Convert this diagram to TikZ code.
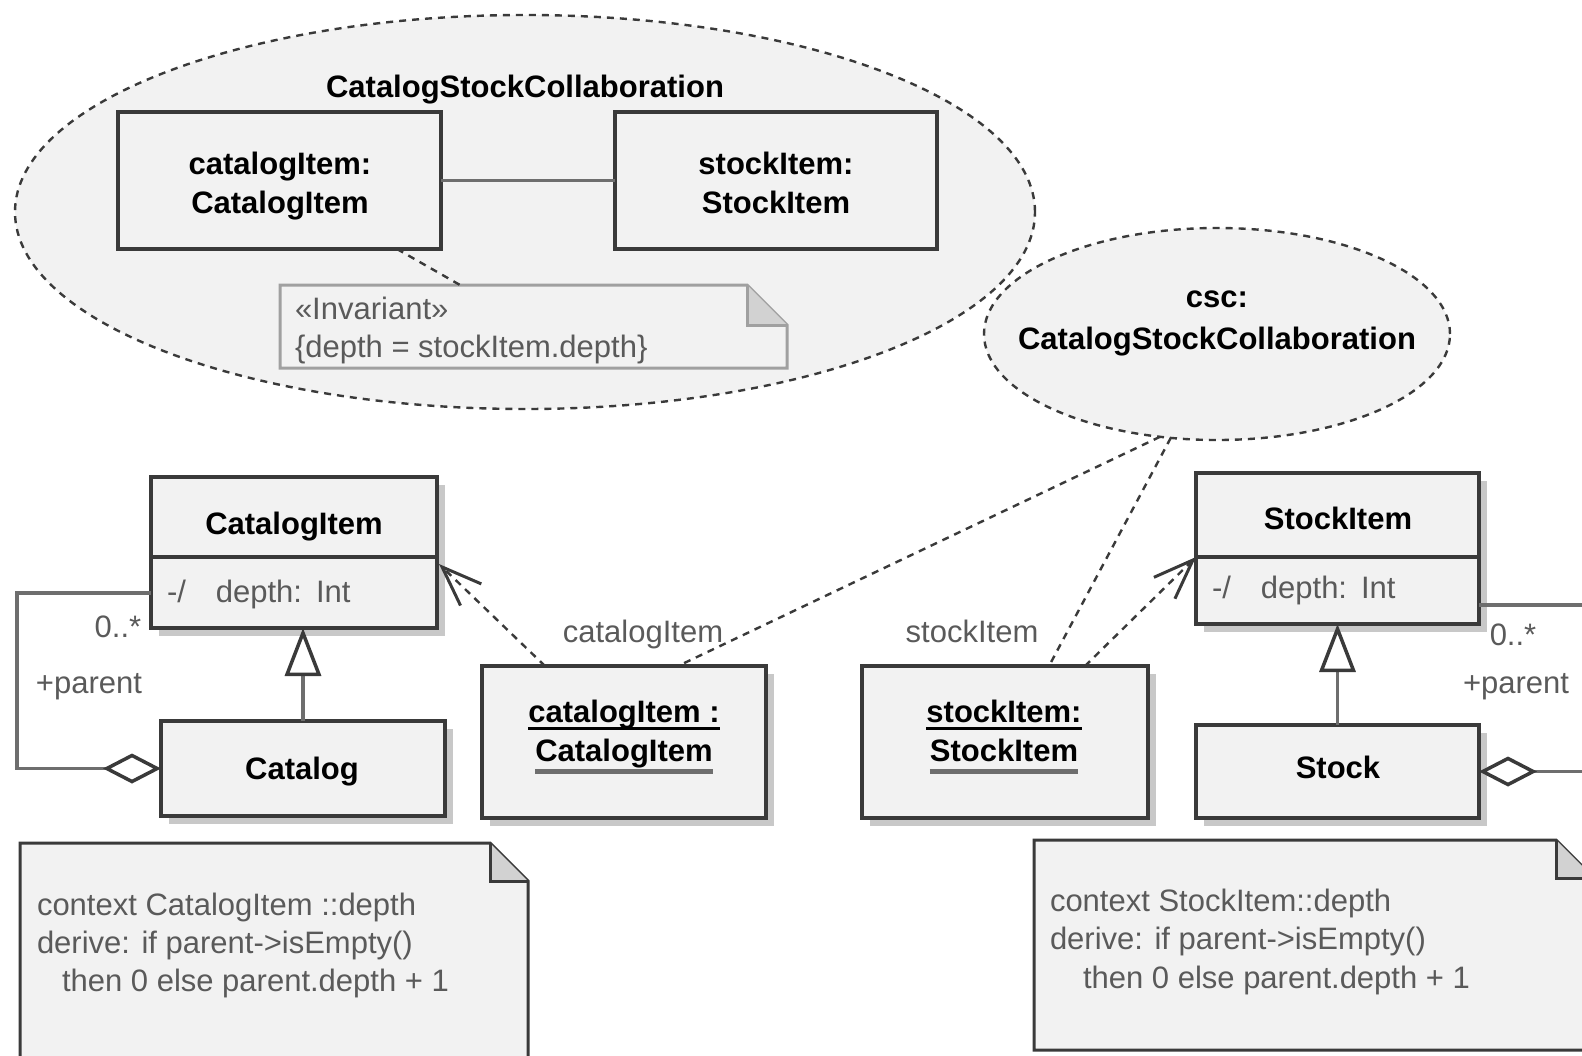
\documentclass[tikz,border=0pt]{standalone}
\usepackage{fontspec}
\setmainfont{Liberation Sans}
\usetikzlibrary{arrows.meta,shapes.geometric,shadows,calc}

\definecolor{boxfill}{HTML}{F2F2F2}
\definecolor{edge}{HTML}{3A3A3A}
\definecolor{assoc}{HTML}{6E6E6E}
\definecolor{shade}{HTML}{C8C8C8}
\definecolor{softtext}{HTML}{5A5A5A}
\definecolor{lightedge}{HTML}{A0A0A0}
\definecolor{foldgray}{HTML}{D2D2D2}

\begin{document}
\begin{tikzpicture}[x=1pt,y=-1pt,
  every node/.style={inner sep=0pt, outer sep=0pt},
  umlbox/.style={rectangle, draw=edge, line width=3.5pt, fill=boxfill, anchor=north west},
  shadowbox/.style={umlbox, general shadow={fill=shade, shadow xshift=8pt, shadow yshift=-8pt}},
  divider/.style={draw=edge, line width=3.5pt},
  heading/.style={font=\fontsize{31}{38}\selectfont\bfseries, text=black, text height=22pt, text depth=7pt},
  softlabel/.style={font=\fontsize{31}{38}\selectfont, text=softtext, text height=22pt, text depth=7pt},
  dashlink/.style={draw=edge, line width=2.4pt, dash pattern=on 7pt off 6pt},
  assocline/.style={draw=assoc, line width=3.5pt},
  collab/.style={ellipse, draw=edge, fill=boxfill, line width=2.4pt, dash pattern=on 7pt off 6pt},
  noteframe/.style={rectangle, anchor=north west},
  noteline/.style={draw=#1, line width=3pt},
  generalize/.style={assocline, -{Triangle[length=48pt,width=36pt,color=edge,fill=white]}},
  aggregate/.style={assocline, {Diamond[length=58pt,width=30pt,color=edge,fill=white]}-},
  depend/.style={dashlink, -{Straight Barb[length=40pt,width=30pt,line width=3pt]}},
]
\useasboundingbox (0,0) rectangle (1582,1055);
\fill[white] (0,0) rectangle (1582,1055);
\clip (0,0) rectangle (1582,1055);

% ---------- collaboration definition ----------
\node[collab, minimum width=1020pt, minimum height=394pt] (collab) at (525,212) {};
\node[heading] (collabtitle) at (525,90) {CatalogStockCollaboration};
\node[umlbox, minimum width=323pt, minimum height=137pt] (cin) at (118,112) {};
\node[umlbox, minimum width=322pt, minimum height=137pt] (sin) at (615,112) {};
\node[heading] (cinA) at (280,167) {catalogItem:};
\node[heading] (cinB) at (280,206) {CatalogItem};
\node[heading] (sinA) at (776,167) {stockItem:};
\node[heading] (sinB) at (776,206) {StockItem};
\draw[assocline] (cin.east) -- (sin.west);

% invariant note
\node[noteframe, minimum width=507pt, minimum height=83pt] (inv) at (280,285) {};
\fill[boxfill] (inv.north west) -- ($(inv.north east)+(-40,0)$) -- ($(inv.north east)+(0,40)$) -- (inv.south east) -- (inv.south west) -- cycle;
\draw[noteline=lightedge] (inv.north west) -- ($(inv.north east)+(-40,0)$) -- ($(inv.north east)+(0,40)$) -- (inv.south east) -- (inv.south west) -- cycle;
\draw[noteline=lightedge, fill=foldgray] ($(inv.north east)+(-40,0)$) -- ($(inv.north east)+(-40,40)$) -- ($(inv.north east)+(0,40)$);
\node[softlabel, anchor=west] (invA) at (295,312) {«Invariant»};
\node[softlabel, anchor=west] (invB) at (295,350) {\{depth = stockItem.depth\}};
\draw[dashlink] ($(cin.south west)+(279,0)$) -- ($(inv.north west)+(180,0)$);

% ---------- collaboration use ----------
\node[collab, minimum width=466pt, minimum height=212pt] (csc) at (1217,334) {};
\node[heading] (cscA) at (1217,300) {csc:};
\node[heading] (cscB) at (1217,342) {CatalogStockCollaboration};

% ---------- classes ----------
\node[shadowbox, minimum width=286pt, minimum height=151pt] (ci) at (151,477) {};
\coordinate (cidiv) at (0,557);
\draw[divider] (ci.west |- cidiv) -- (ci.east |- cidiv);
\node[heading] (cititle) at (294,527) {CatalogItem};
\node[softlabel, anchor=west] (ciattr) at (167,595) {-/\hskip 30pt depth:\hskip 14pt Int};

\node[shadowbox, minimum width=284pt, minimum height=95pt] (cat) at (161,721) {};
\node[heading] (cattitle) at (302,772) {Catalog};

\node[shadowbox, minimum width=283pt, minimum height=151pt] (si) at (1196,473) {};
\coordinate (sidiv) at (0,557);
\draw[divider] (si.west |- sidiv) -- (si.east |- sidiv);
\node[heading] (sititle) at (1338,522) {StockItem};
\node[softlabel, anchor=west] (siattr) at (1212,591) {-/\hskip 30pt depth:\hskip 14pt Int};

\node[shadowbox, minimum width=283pt, minimum height=93pt] (st) at (1196,725) {};
\node[heading] (sttitle) at (1338,771) {Stock};

% generalizations
\draw[generalize] (cat.north) -- (cat.north |- ci.south);
\draw[generalize] (st.north) -- (st.north |- si.south);

% parent aggregations
\coordinate (lcorner) at (17,593);
\draw[aggregate] (cat.west) -| (lcorner) -- (ci.west |- lcorner);
\node[softlabel] (lmult) at (118,630) {0..*};
\node[softlabel] (lrole) at (89,686) {+parent};

\coordinate (rcorner) at (1620,605);
\draw[aggregate] (st.east) -| (rcorner) -- (si.east |- rcorner);
\node[softlabel] (rmult) at (1513,638) {0..*};
\node[softlabel] (rrole) at (1516,686) {+parent};

% ---------- role bindings ----------
\node[shadowbox, minimum width=284pt, minimum height=152pt] (ciinst) at (482,666) {};
\node[heading] (ciinstA) at (624,715) {catalogItem :};
\node[heading] (ciinstB) at (624,754) {CatalogItem};
\draw[draw=black, line width=3pt] ($(ciinstA.base west)+(0,6)$) -- ($(ciinstA.base east)+(0,6)$);
\draw[draw=assoc, line width=5pt] ($(ciinstB.base west)+(0,10)$) -- ($(ciinstB.base east)+(0,10)$);

\node[shadowbox, minimum width=286pt, minimum height=152pt] (siinst) at (862,666) {};
\node[heading] (siinstA) at (1004,715) {stockItem:};
\node[heading] (siinstB) at (1004,754) {StockItem};
\draw[draw=black, line width=3pt] ($(siinstA.base west)+(0,6)$) -- ($(siinstA.base east)+(0,6)$);
\draw[draw=assoc, line width=5pt] ($(siinstB.base west)+(0,10)$) -- ($(siinstB.base east)+(0,10)$);

\coordinate (citip) at (439,564);
\coordinate (sitip) at (1196,557);
\draw[depend] ($(ciinst.north west)+(63,0)$) -- (citip);
\draw[depend] ($(siinst.north west)+(223,0)$) -- (sitip);

\draw[dashlink] (csc.-119) -- ($(ciinst.north west)+(196,0)$);
\draw[dashlink] (csc.-114) -- ($(siinst.north west)+(187,0)$);
\node[softlabel] (cirole) at (643,635) {catalogItem};
\node[softlabel] (sirole) at (972,635) {stockItem};

% ---------- derivation notes ----------
\node[noteframe, minimum width=508pt, minimum height=240pt] (lnote) at (20,843) {};
\draw[noteline=edge, fill=boxfill] (lnote.north west) -- ($(lnote.north east)+(-38,0)$) -- ($(lnote.north east)+(0,38)$) -- (lnote.south east) -- (lnote.south west) -- cycle;
\draw[noteline=edge, fill=foldgray] ($(lnote.north east)+(-38,0)$) -- ($(lnote.north east)+(-38,38)$) -- ($(lnote.north east)+(0,38)$);
\node[softlabel, anchor=west] (ltextA) at (37,908) {context CatalogItem ::depth};
\node[softlabel, anchor=west] (ltextB) at (37,946) {derive: if parent->isEmpty()};
\node[softlabel, anchor=west] (ltextC) at (62,984) {then 0 else parent.depth + 1};

\node[noteframe, minimum width=560pt, minimum height=210pt] (rnote) at (1034,840) {};
\draw[noteline=edge, fill=boxfill] (rnote.north west) -- ($(rnote.north east)+(-38,0)$) -- ($(rnote.north east)+(0,38)$) -- (rnote.south east) -- (rnote.south west) -- cycle;
\draw[noteline=edge, fill=foldgray] ($(rnote.north east)+(-38,0)$) -- ($(rnote.north east)+(-38,38)$) -- ($(rnote.north east)+(0,38)$);
\node[softlabel, anchor=west] (rtextA) at (1050,904) {context StockItem::depth};
\node[softlabel, anchor=west] (rtextB) at (1050,942) {derive: if parent->isEmpty()};
\node[softlabel, anchor=west] (rtextC) at (1083,981) {then 0 else parent.depth + 1};
\end{tikzpicture}
\end{document}
